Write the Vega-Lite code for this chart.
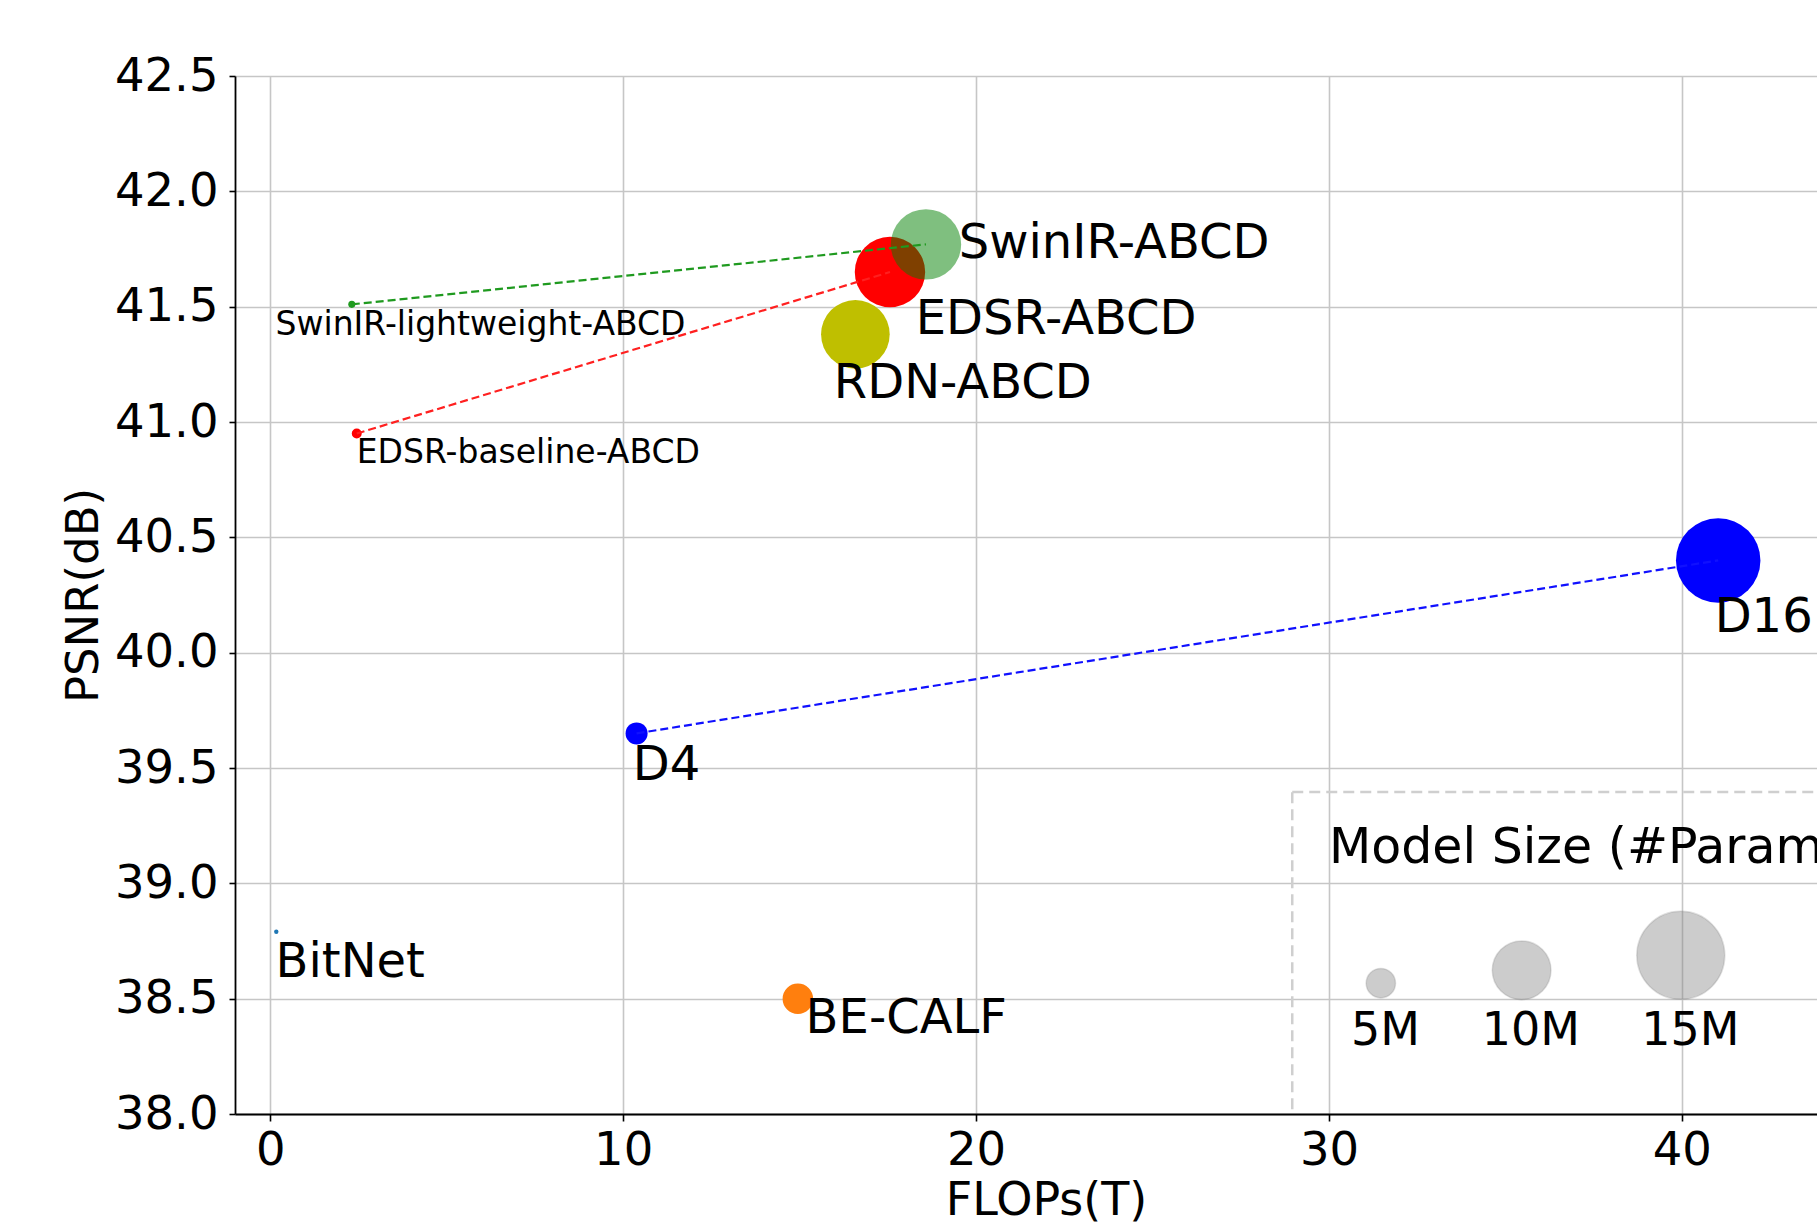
{
  "$schema": "https://vega.github.io/schema/vega-lite/v6.json",
  "width": 1582,
  "height": 1038,
  "autosize": {"type": "none"},
  "padding": {"left": 235, "top": 76, "right": 0, "bottom": 112},
  "background": "white",
  "config": {
    "view": {"stroke": null},
    "font": "DejaVu Sans",
    "axisX": {
      "grid": true, "gridColor": "#c6c6c6", "gridWidth": 1.6,
      "domainColor": "black", "domainWidth": 1.8,
      "tickColor": "black", "tickWidth": 1.6, "tickSize": 7,
      "labelFont": "DejaVu Sans", "labelFontSize": 46.5, "labelColor": "black", "labelPadding": 6,
      "titleFont": "DejaVu Sans", "titleFontSize": 46, "titleFontWeight": "normal", "titleColor": "black",
      "titlePadding": 5, "titleX": 811, "zindex": 1
    },
    "axisY": {
      "grid": true, "gridColor": "#c6c6c6", "gridWidth": 1.6,
      "domainColor": "black", "domainWidth": 1.8,
      "tickColor": "black", "tickWidth": 1.6, "tickSize": 6,
      "labelFont": "DejaVu Sans", "labelFontSize": 46.5, "labelColor": "black", "labelPadding": 11,
      "titleFont": "DejaVu Sans", "titleFontSize": 45, "titleFontWeight": "normal", "titleColor": "black",
      "titlePadding": 8, "zindex": 1
    }
  },
  "datasets": {
    "points": [
      {"model": "BitNet", "FLOPs": 0.17, "PSNR": 38.79, "params": 0.75},
      {"model": "BE-CALF", "FLOPs": 14.95, "PSNR": 38.50, "params": 5.2},
      {"model": "D4", "FLOPs": 10.38, "PSNR": 39.65, "params": 3.75, "series": "D"},
      {"model": "D16", "FLOPs": 41.03, "PSNR": 40.40, "params": 14.4, "series": "D"},
      {"model": "EDSR-baseline-ABCD", "FLOPs": 2.45, "PSNR": 40.95, "params": 1.7, "series": "EDSR"},
      {"model": "RDN-ABCD", "FLOPs": 16.58, "PSNR": 41.38, "params": 11.7},
      {"model": "EDSR-ABCD", "FLOPs": 17.56, "PSNR": 41.65, "params": 12.0, "series": "EDSR"},
      {"model": "SwinIR-lightweight-ABCD", "FLOPs": 2.31, "PSNR": 41.51, "params": 1.2, "series": "SwinIR"},
      {"model": "SwinIR-ABCD", "FLOPs": 18.58, "PSNR": 41.77, "params": 12.0, "series": "SwinIR"}
    ],
    "labels": [
      {"label": "SwinIR-ABCD", "x": 19.51, "y": 41.709, "kind": "big"},
      {"label": "EDSR-ABCD", "x": 18.29, "y": 41.383, "kind": "big"},
      {"label": "RDN-ABCD", "x": 15.97, "y": 41.102, "kind": "big"},
      {"label": "SwinIR-lightweight-ABCD", "x": 0.15, "y": 41.376, "kind": "small"},
      {"label": "EDSR-baseline-ABCD", "x": 2.45, "y": 40.821, "kind": "small"},
      {"label": "BitNet", "x": 0.15, "y": 38.594, "kind": "big"},
      {"label": "BE-CALF", "x": 15.17, "y": 38.349, "kind": "big"},
      {"label": "D4", "x": 10.27, "y": 39.45, "kind": "big"},
      {"label": "D16", "x": 40.93, "y": 40.09, "kind": "big"}
    ],
    "legendBox": [{"x1": 28.96, "x2": 50, "y1": 37.8, "y2": 39.396}],
    "legendItems": [
      {"label": "5M", "params": 5, "x": 31.47, "y": 38.567, "lx": 31.6, "ly": 38.298},
      {"label": "10M", "params": 10, "x": 35.46, "y": 38.623, "lx": 35.72, "ly": 38.298},
      {"label": "15M", "params": 15, "x": 39.97, "y": 38.688, "lx": 40.24, "ly": 38.298}
    ],
    "legendTitle": [{"text": "Model Size (#Params)", "x": 30.0, "y": 39.087}]
  },
  "layer": [
    {
      "data": {"name": "legendBox"},
      "mark": {"type": "rect", "clip": true, "fill": "white", "fillOpacity": 0, "stroke": "#cfcfcf", "strokeWidth": 2.5, "strokeDash": [11, 6]},
      "encoding": {
        "x": {"field": "x1", "type": "quantitative", "scale": {"domain": [-1, 43.83], "nice": false, "zero": false}, "title": "FLOPs(T)",
          "axis": {"values": [0, 10, 20, 30, 40], "format": "d"}},
        "x2": {"field": "x2"},
        "y": {"field": "y1", "type": "quantitative", "scale": {"domain": [38, 42.5], "nice": false, "zero": false}, "title": "PSNR(dB)",
          "axis": {"values": [38, 38.5, 39, 39.5, 40, 40.5, 41, 41.5, 42, 42.5], "format": ".1f"}},
        "y2": {"field": "y2"}
      }
    },
    {
      "data": {"name": "points"},
      "mark": {"type": "circle", "strokeWidth": 0},
      "encoding": {
        "x": {"field": "FLOPs", "type": "quantitative", "title": "FLOPs(T)"},
        "y": {"field": "PSNR", "type": "quantitative", "title": "PSNR(dB)"},
        "size": {"field": "params", "type": "quantitative", "scale": {"type": "pow", "exponent": 2, "domain": [0, 15], "range": [0, 7744]}, "legend": null},
        "color": {"field": "model", "type": "nominal", "legend": null,
          "scale": {
            "domain": ["BitNet", "BE-CALF", "D4", "D16", "EDSR-baseline-ABCD", "RDN-ABCD", "EDSR-ABCD", "SwinIR-lightweight-ABCD", "SwinIR-ABCD"],
            "range": ["#1f77b4", "#ff7f0e", "#0000ff", "#0000ff", "#ff0000", "#bfbf00", "#ff0000", "#1f9a1f", "#008000"]
          }},
        "opacity": {"condition": {"test": "datum.model === 'SwinIR-ABCD'", "value": 0.5}, "value": 1}
      }
    },
    {
      "data": {"name": "legendItems"},
      "mark": {"type": "circle", "fill": "#808080", "fillOpacity": 0.4, "stroke": "#808080", "strokeOpacity": 0.25, "strokeWidth": 1.5, "opacity": 1},
      "encoding": {
        "x": {"field": "x", "type": "quantitative", "title": "FLOPs(T)"},
        "y": {"field": "y", "type": "quantitative", "title": "PSNR(dB)"},
        "size": {"field": "params", "type": "quantitative", "legend": null}
      }
    },
    {
      "data": {"name": "points"},
      "transform": [{"filter": "isValid(datum.series)"}],
      "mark": {"type": "line", "strokeDash": [8, 4], "strokeWidth": 2.2},
      "encoding": {
        "x": {"field": "FLOPs", "type": "quantitative", "title": "FLOPs(T)"},
        "y": {"field": "PSNR", "type": "quantitative", "title": "PSNR(dB)"},
        "detail": {"field": "series", "type": "nominal"},
        "stroke": {"field": "series", "type": "nominal", "legend": null,
          "scale": {"domain": ["D", "EDSR", "SwinIR"], "range": ["#1010ff", "#ff2020", "#1f9a1f"]}}
      }
    },
    {
      "data": {"name": "labels"},
      "transform": [{"filter": "datum.kind === 'big'"}],
      "mark": {"type": "text", "align": "left", "baseline": "alphabetic", "fontSize": 48, "font": "DejaVu Sans", "color": "black"},
      "encoding": {
        "x": {"field": "x", "type": "quantitative", "title": "FLOPs(T)"},
        "y": {"field": "y", "type": "quantitative", "title": "PSNR(dB)"},
        "text": {"field": "label"}
      }
    },
    {
      "data": {"name": "labels"},
      "transform": [{"filter": "datum.kind === 'small'"}],
      "mark": {"type": "text", "align": "left", "baseline": "alphabetic", "fontSize": 33, "font": "DejaVu Sans", "color": "black"},
      "encoding": {
        "x": {"field": "x", "type": "quantitative", "title": "FLOPs(T)"},
        "y": {"field": "y", "type": "quantitative", "title": "PSNR(dB)"},
        "text": {"field": "label"}
      }
    },
    {
      "data": {"name": "legendTitle"},
      "mark": {"type": "text", "align": "left", "baseline": "alphabetic", "fontSize": 49, "font": "DejaVu Sans", "color": "black", "clip": true},
      "encoding": {
        "x": {"field": "x", "type": "quantitative", "title": "FLOPs(T)"},
        "y": {"field": "y", "type": "quantitative", "title": "PSNR(dB)"},
        "text": {"field": "text"}
      }
    },
    {
      "data": {"name": "legendItems"},
      "mark": {"type": "text", "align": "center", "baseline": "alphabetic", "fontSize": 46, "font": "DejaVu Sans", "color": "black"},
      "encoding": {
        "x": {"field": "lx", "type": "quantitative", "title": "FLOPs(T)"},
        "y": {"field": "ly", "type": "quantitative", "title": "PSNR(dB)"},
        "text": {"field": "label"}
      }
    },
    {
      "mark": {"type": "rule", "color": "black", "strokeWidth": 1.8},
      "encoding": {
        "y": {"datum": 42.5, "type": "quantitative", "title": "PSNR(dB)"}
      }
    }
  ]
}
